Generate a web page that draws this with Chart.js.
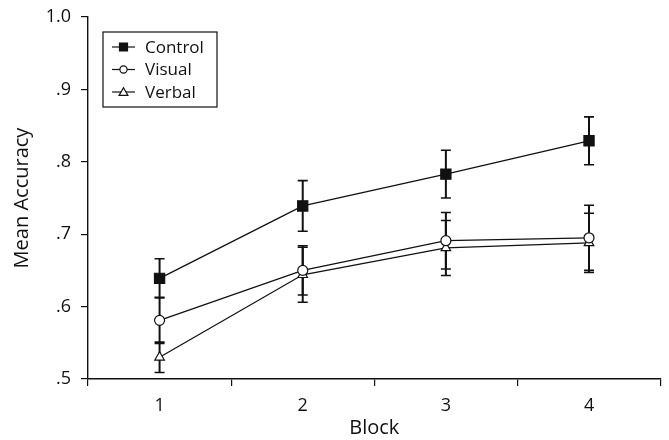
<!DOCTYPE html>
<html>
<head>
<meta charset="utf-8">
<script src="https://cdn.jsdelivr.net/npm/chart.js@4.4.1/dist/chart.umd.min.js"></script>
<style>
  html, body { margin: 0; padding: 0; background: #fff; }
  #wrap { width: 669px; height: 440px; }
</style>
</head>
<body>
<div id="wrap"><canvas id="chart"></canvas></div>
<script>
// data
const blocks = ['1', '2', '3', '4'];
const controlMean = [0.639, 0.739, 0.783, 0.829];
const controlErr = [0.027, 0.035, 0.033, 0.033];
const visualMean = [0.581, 0.650, 0.691, 0.695];
const visualErr = [0.032, 0.034, 0.039, 0.045];
const verbalMean = [0.530, 0.644, 0.681, 0.688];
const verbalErr = [0.021, 0.038, 0.038, 0.041];
const seriesNames = ['Control', 'Visual', 'Verbal'];

const FONT = "'Open Sans', 'Noto Sans', sans-serif";

// error bars, drawn under the markers
const errorBars = {
  id: 'errorBars',
  beforeDatasetsDraw(chart) {
    const ctx = chart.ctx;
    const y = chart.scales.y;
    ctx.save();
    ctx.strokeStyle = '#111';
    chart.data.datasets.forEach((ds, i) => {
      const meta = chart.getDatasetMeta(i);
      meta.data.forEach((pt, j) => {
        const v = ds.data[j], e = ds.errors[j];
        const top = y.getPixelForValue(v + e);
        const bot = y.getPixelForValue(v - e);
        ctx.lineWidth = 2;
        ctx.beginPath();
        ctx.moveTo(pt.x, top);
        ctx.lineTo(pt.x, bot);
        ctx.stroke();
        ctx.lineWidth = 1.6;
        ctx.beginPath();
        ctx.moveTo(pt.x - 5, top); ctx.lineTo(pt.x + 5, top);
        ctx.moveTo(pt.x - 5, bot); ctx.lineTo(pt.x + 5, bot);
        ctx.stroke();
      });
    });
    ctx.restore();
  }
};

// boxed legend inside the plot
const boxLegend = {
  id: 'boxLegend',
  afterDraw(chart) {
    const ctx = chart.ctx;
    const x0 = 103, y0 = 32, w = 114, h = 75;
    ctx.save();
    ctx.strokeStyle = '#111';
    ctx.lineWidth = 1.2;
    ctx.strokeRect(x0, y0, w, h);
    const rows = [47, 69.5, 92];
    chart.data.datasets.forEach((ds, i) => {
      const cy = rows[i];
      ctx.lineWidth = 1.2;
      ctx.beginPath();
      ctx.moveTo(112, cy); ctx.lineTo(135, cy);
      ctx.stroke();
      const cx = 123.5;
      ctx.fillStyle = ds.pointBackgroundColor;
      ctx.beginPath();
      if (ds.pointStyle === 'rect') {
        ctx.rect(cx - 4, cy - 4, 8, 8);
      } else if (ds.pointStyle === 'circle') {
        ctx.arc(cx, cy, 3.6, 0, Math.PI * 2);
      } else {
        ctx.moveTo(cx, cy - 4.2);
        ctx.lineTo(cx + 4.4, cy + 3.4);
        ctx.lineTo(cx - 4.4, cy + 3.4);
        ctx.closePath();
      }
      ctx.fill();
      ctx.stroke();
      ctx.fillStyle = '#111';
      ctx.font = '17px ' + FONT;
      ctx.textBaseline = 'middle';
      ctx.fillText(ds.label, 145, cy + 1);
    });
    ctx.restore();
  }
};

new Chart(document.getElementById('chart'), {
  type: 'line',
  data: {
    labels: blocks,
    datasets: [
      {
        label: seriesNames[0], data: controlMean, errors: controlErr,
        pointStyle: 'rect', pointRadius: 7.2, pointBackgroundColor: '#111'
      },
      {
        label: seriesNames[1], data: visualMean, errors: visualErr,
        pointStyle: 'circle', pointRadius: 5, pointBackgroundColor: '#fff'
      },
      {
        label: seriesNames[2], data: verbalMean, errors: verbalErr,
        pointStyle: 'triangle', pointRadius: 5.5, pointBackgroundColor: '#fff'
      }
    ].map(d => Object.assign({
      borderColor: '#111', borderWidth: 1.3,
      pointBorderColor: '#111', pointBorderWidth: 1.2,
      pointHoverRadius: d.pointRadius, tension: 0, fill: false
    }, d))
  },
  options: {
    responsive: true,
    maintainAspectRatio: false,
    animation: false,
    events: [],
    layout: { padding: { top: 17, right: 0, left: 0, bottom: 0 } },
    plugins: {
      legend: { display: false },
      tooltip: { enabled: false }
    },
    scales: {
      x: {
        offset: true,
        grid: { offset: true, drawOnChartArea: false, color: '#111', tickLength: 7, lineWidth: 1.2 },
        border: { color: '#111', width: 1.4 },
        ticks: { color: '#111', font: { family: FONT, size: 18 }, padding: 9 },
        title: { display: true, text: 'Block', color: '#111', font: { family: FONT, size: 20 }, padding: { top: 0, bottom: 0 } },
        afterFit(s) { s.height = 61; }
      },
      y: {
        min: 0.5, max: 1.0,
        ticks: {
          stepSize: 0.1, color: '#111', font: { family: FONT, size: 18 }, padding: 10,
          callback: v => (v >= 0.999 ? '1.0' : v.toFixed(1).replace(/^0/, ''))
        },
        grid: { drawOnChartArea: false, color: '#111', tickLength: 7, lineWidth: 1.2 },
        border: { color: '#111', width: 1.4 },
        title: { display: true, text: 'Mean Accuracy', color: '#111', font: { family: FONT, size: 20 }, padding: { top: 10, bottom: 0 } },
        afterFit(s) { s.width = 88; s.paddingTop = 0; s.paddingBottom = 0; }
      }
    }
  },
  plugins: [errorBars, boxLegend]
});
</script>
</body>
</html>
